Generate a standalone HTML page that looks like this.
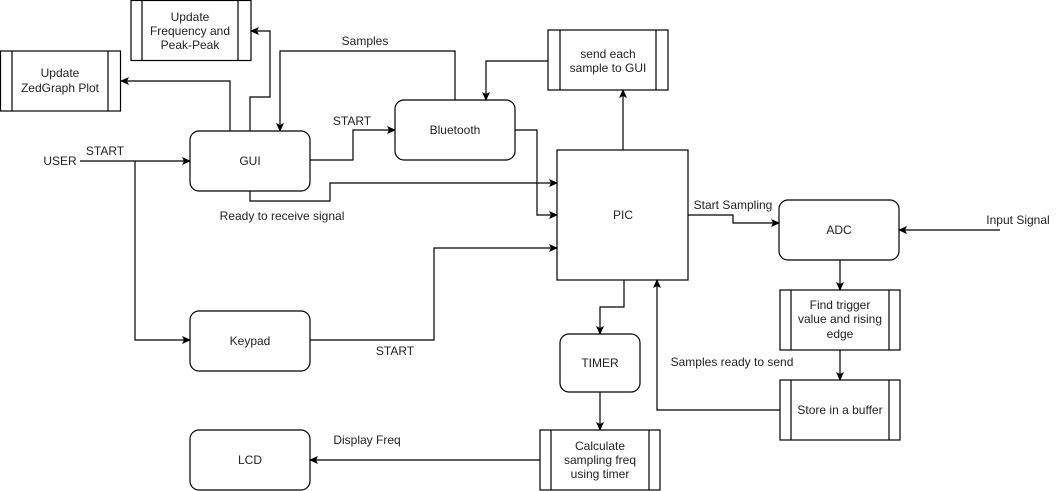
<!DOCTYPE html>
<html><head><meta charset="utf-8"><style>
html,body{margin:0;padding:0;background:#fff;}
svg{display:block;}
text{font-family:"Liberation Sans",Arial,sans-serif;font-size:12px;fill:#222;}
</style></head><body>
<svg width="1058" height="491" viewBox="0 0 1058 491" xmlns="http://www.w3.org/2000/svg">
<defs>
<marker id="a" markerWidth="10" markerHeight="10" refX="8" refY="5" orient="auto" markerUnits="userSpaceOnUse">
<path d="M0,1 L9,5 L0,9 L2,5 Z" fill="#000"/>
</marker>
</defs>
<g fill="#fff" stroke="#000" stroke-width="1.2">
<!-- process boxes -->
<rect x="0.5" y="51" width="120" height="60"/><line x1="12" y1="51" x2="12" y2="111"/><line x1="108" y1="51" x2="108" y2="111"/>
<rect x="131" y="0.5" width="120" height="60"/><line x1="142" y1="0.5" x2="142" y2="60.5"/><line x1="238" y1="0.5" x2="238" y2="60.5"/>
<rect x="548" y="30" width="120" height="60"/><line x1="560" y1="30" x2="560" y2="90"/><line x1="656" y1="30" x2="656" y2="90"/>
<rect x="780" y="290" width="120" height="60"/><line x1="791" y1="290" x2="791" y2="350"/><line x1="889" y1="290" x2="889" y2="350"/>
<rect x="780" y="380" width="120" height="60"/><line x1="791" y1="380" x2="791" y2="440"/><line x1="889" y1="380" x2="889" y2="440"/>
<rect x="540" y="430" width="120" height="60"/><line x1="551" y1="430" x2="551" y2="490"/><line x1="649" y1="430" x2="649" y2="490"/>
<!-- rounded -->
<rect x="190" y="131" width="120" height="60" rx="9"/>
<rect x="395" y="100" width="120" height="60" rx="9"/>
<rect x="190" y="311" width="120" height="60" rx="9"/>
<rect x="190" y="430" width="120" height="60" rx="9"/>
<rect x="779" y="200" width="120" height="60" rx="9"/>
<rect x="560" y="334" width="80" height="58" rx="9"/>
<rect x="557" y="150" width="131" height="130"/>
</g>
<g fill="none" stroke="#000" stroke-width="1.2">
<path d="M80,161 H190" marker-end="url(#a)"/>
<path d="M135,161 V340 H190" marker-end="url(#a)"/>
<path d="M310,160 H353 V130 H395" marker-end="url(#a)"/>
<path d="M230,131 V81 H121" marker-end="url(#a)"/>
<path d="M250,131 V97 H270 V31 H251" marker-end="url(#a)"/>
<path d="M455,100 V51 H280 V131" marker-end="url(#a)"/>
<path d="M250,191 V201 H330 V183 H557" marker-end="url(#a)"/>
<path d="M515,130 H537 V215 H557" marker-end="url(#a)"/>
<path d="M310,340 H434 V248 H557" marker-end="url(#a)"/>
<path d="M548,61 H486 V100" marker-end="url(#a)"/>
<path d="M623,150 V90" marker-end="url(#a)"/>
<path d="M688,215 H733 V223 H779" marker-end="url(#a)"/>
<path d="M1000,230 H899" marker-end="url(#a)"/>
<path d="M840,260 V290" marker-end="url(#a)"/>
<path d="M840,350 V380" marker-end="url(#a)"/>
<path d="M780,410 H657 V280" marker-end="url(#a)"/>
<path d="M624,280 V307 H600 V334" marker-end="url(#a)"/>
<path d="M600,392 V430" marker-end="url(#a)"/>
<path d="M540,460 H310" marker-end="url(#a)"/>
</g>
<g text-anchor="middle">
<text x="60" y="165">USER</text>
<text x="105" y="155">START</text>
<text x="60" y="77">Update</text><text x="60" y="92">ZedGraph Plot</text>
<text x="190" y="21">Update</text><text x="190" y="35">Frequency and</text><text x="190" y="49">Peak-Peak</text>
<text x="365" y="45">Samples</text>
<text x="250" y="165">GUI</text>
<text x="455" y="134">Bluetooth</text>
<text x="352" y="125">START</text>
<text x="282" y="220">Ready to receive signal</text>
<text x="608" y="58">send each</text><text x="608" y="72">sample to GUI</text>
<text x="623" y="219">PIC</text>
<text x="733" y="209">Start Sampling</text>
<text x="839" y="234">ADC</text>
<text x="1018" y="224">Input Signal</text>
<text x="840" y="309">Find trigger</text><text x="840" y="323">value and rising</text><text x="840" y="338">edge</text>
<text x="840" y="414">Store in a buffer</text>
<text x="732" y="366">Samples ready to send</text>
<text x="250" y="345">Keypad</text>
<text x="395" y="355">START</text>
<text x="600" y="367">TIMER</text>
<text x="600" y="450">Calculate</text><text x="600" y="464">sampling freq</text><text x="600" y="478">using timer</text>
<text x="250" y="464">LCD</text>
<text x="367" y="444">Display Freq</text>
</g>
</svg>
</body></html>
